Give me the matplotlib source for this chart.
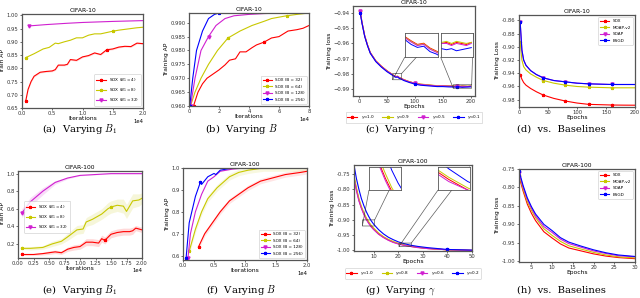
import matplotlib
matplotlib.use("Agg")
import matplotlib.pyplot as plt

# ---------------- data ----------------
# (a) CIFAR-10, varying B1  (iterations in units of 1e4)
a_x_red = [0.06, 0.1, 0.15, 0.2, 0.3, 0.4, 0.5, 0.55, 0.6, 0.7, 0.75, 0.8, 0.9, 1.0, 1.1, 1.2, 1.3, 1.4, 1.5, 1.6, 1.7, 1.8, 1.9, 2.0]
a_red = [0.675, 0.72, 0.75, 0.77, 0.785, 0.788, 0.79, 0.795, 0.812, 0.812, 0.815, 0.833, 0.83, 0.843, 0.848, 0.858, 0.852, 0.87, 0.873, 0.88, 0.883, 0.882, 0.895, 0.893]
a_x_yel = [0.06, 0.2, 0.35, 0.45, 0.55, 0.6, 0.7, 0.8, 0.9, 1.0, 1.1, 1.2, 1.3, 1.4, 1.5, 1.6, 1.7, 1.8, 1.9, 2.0]
a_yel = [0.84, 0.855, 0.873, 0.879, 0.895, 0.893, 0.9, 0.906, 0.915, 0.915, 0.925, 0.93, 0.93, 0.935, 0.94, 0.944, 0.947, 0.95, 0.953, 0.955]
a_x_mag = [0.12, 0.4, 0.75, 1.0, 1.5, 2.0]
a_mag = [0.96, 0.965, 0.97, 0.973, 0.977, 0.98]
a_labels = ["SOX ($B_1=4$)", "SOX ($B_1=8$)", "SOX ($B_1=32$)"]

# (b) CIFAR-10, varying B
b_x_red = [0.3, 0.6, 0.9, 1.2, 1.6, 2.0, 2.4, 2.7, 3.1, 3.4, 3.8, 4.2, 4.5, 5.0, 5.5, 6.0, 6.6, 7.2, 7.6, 8.0]
b_red = [0.960, 0.965, 0.968, 0.970, 0.9715, 0.973, 0.9748, 0.9765, 0.977, 0.9795, 0.9795, 0.981, 0.982, 0.983, 0.9845, 0.985, 0.987, 0.9875, 0.988, 0.989]
b_x_yel = [0.1, 0.4, 0.8, 1.3, 1.9, 2.6, 3.4, 4.2, 5.0, 5.5, 6.5, 7.2, 8.0]
b_yel = [0.960, 0.965, 0.970, 0.975, 0.980, 0.9845, 0.987, 0.989, 0.9905, 0.9915, 0.9925, 0.993, 0.9935]
b_x_mag = [0.1, 0.4, 0.8, 1.3, 1.8, 2.4, 3.0, 4.0, 5.0, 6.2]
b_mag = [0.960, 0.970, 0.980, 0.985, 0.989, 0.9915, 0.9925, 0.993, 0.9933, 0.9935]
b_x_blu = [0.05, 0.25, 0.5, 0.9, 1.3, 1.7, 2.0, 2.6, 3.2]
b_blu = [0.960, 0.970, 0.980, 0.987, 0.9915, 0.993, 0.9935, 0.9935, 0.9935]
b_labels = ["SOX (B = 32)", "SOX (B = 64)", "SOX (B = 128)", "SOX (B = 256)"]

# (c) CIFAR-10, varying gamma
c_ep = [2, 5, 10, 15, 20, 30, 40, 50, 60, 63, 66, 69, 72, 75, 80, 90, 100, 110, 120, 130, 140, 150, 160, 170, 175, 180, 185, 190, 195, 200]
c_red = [-0.939, -0.946, -0.955, -0.961, -0.966, -0.9715, -0.975, -0.978, -0.9805, -0.9812, -0.9818, -0.9816, -0.9824, -0.9829, -0.9838, -0.9852, -0.9862, -0.9869, -0.9872, -0.9876, -0.9879, -0.9878, -0.988, -0.9882, -0.9881, -0.9883, -0.9881, -0.9882, -0.9883, -0.9881]
c_yel = [-0.939, -0.946, -0.955, -0.961, -0.9662, -0.9716, -0.9752, -0.9781, -0.9806, -0.9813, -0.9819, -0.9817, -0.9825, -0.983, -0.9839, -0.9852, -0.9862, -0.9868, -0.9871, -0.9875, -0.9878, -0.9878, -0.9879, -0.9881, -0.988, -0.9882, -0.988, -0.9881, -0.9882, -0.9881]
c_mag = [-0.939, -0.946, -0.955, -0.9612, -0.9662, -0.9717, -0.9753, -0.9782, -0.9807, -0.9814, -0.982, -0.9818, -0.9826, -0.9831, -0.984, -0.9853, -0.9863, -0.987, -0.9873, -0.9877, -0.988, -0.9879, -0.9881, -0.9882, -0.9882, -0.9884, -0.9882, -0.9883, -0.9884, -0.9882]
c_blu = [-0.940, -0.9465, -0.9555, -0.9615, -0.9665, -0.972, -0.9756, -0.9786, -0.981, -0.9818, -0.9823, -0.9821, -0.983, -0.9834, -0.9844, -0.9857, -0.9868, -0.9875, -0.9878, -0.9881, -0.9884, -0.9884, -0.9886, -0.9887, -0.9888, -0.9887, -0.9889, -0.9888, -0.9887, -0.9886]
c_labels = [r"$\gamma$=1.0", r"$\gamma$=0.9", r"$\gamma$=0.5", r"$\gamma$=0.1"]

# (d) CIFAR-10, baselines
d_ep = [2, 5, 8, 12, 20, 30, 42, 60, 80, 100, 120, 140, 160, 180, 200]
d_sox = [-0.942, -0.949, -0.954, -0.958, -0.963, -0.968, -0.973, -0.978, -0.982, -0.985, -0.987, -0.9875, -0.988, -0.9882, -0.9883]
d_moap = [-0.893, -0.92, -0.93, -0.935, -0.941, -0.946, -0.951, -0.955, -0.958, -0.96, -0.961, -0.9615, -0.962, -0.962, -0.962]
d_soap = [-0.862, -0.905, -0.92, -0.928, -0.936, -0.942, -0.947, -0.951, -0.953, -0.955, -0.956, -0.9565, -0.957, -0.957, -0.957]
d_bsgd = [-0.863, -0.905, -0.92, -0.928, -0.936, -0.942, -0.947, -0.951, -0.953, -0.955, -0.956, -0.9565, -0.957, -0.957, -0.957]
d_labels = ["SOX", "MOAP-v2", "SOAP", "BSGD"]

# (e) CIFAR-100, varying B1
e_x_red = [0.06, 0.25, 0.4, 0.5, 0.6, 0.7, 0.8, 0.9, 1.0, 1.1, 1.2, 1.3, 1.35, 1.4, 1.5, 1.6, 1.7, 1.8, 1.85, 1.9, 2.0]
e_red = [0.08, 0.08, 0.09, 0.1, 0.11, 0.1, 0.14, 0.16, 0.17, 0.22, 0.22, 0.21, 0.26, 0.24, 0.31, 0.33, 0.34, 0.34, 0.35, 0.38, 0.36]
e_red_sd = [0.01, 0.01, 0.015, 0.02, 0.02, 0.02, 0.025, 0.03, 0.03, 0.04, 0.04, 0.04, 0.04, 0.04, 0.04, 0.04, 0.04, 0.04, 0.04, 0.03, 0.03]
e_x_yel = [0.06, 0.2, 0.4, 0.55, 0.7, 0.8, 0.95, 1.05, 1.1, 1.2, 1.3, 1.35, 1.45, 1.5, 1.6, 1.7, 1.75, 1.85, 1.95, 2.0]
e_yel = [0.15, 0.15, 0.16, 0.2, 0.23, 0.28, 0.36, 0.37, 0.45, 0.48, 0.52, 0.54, 0.6, 0.62, 0.64, 0.63, 0.57, 0.69, 0.7, 0.72]
e_yel_sd = [0.01, 0.02, 0.02, 0.03, 0.03, 0.04, 0.05, 0.05, 0.05, 0.06, 0.06, 0.06, 0.07, 0.07, 0.07, 0.08, 0.08, 0.08, 0.07, 0.06]
e_x_mag = [0.06, 0.2, 0.4, 0.6, 0.8, 1.0, 1.25, 1.5, 2.0]
e_mag = [0.55, 0.68, 0.8, 0.9, 0.95, 0.98, 0.99, 1.0, 1.0]
e_mag_sd = [0.05, 0.05, 0.04, 0.02, 0.01, 0.005, 0.003, 0.002, 0.002]

# (f) CIFAR-100, varying B
f_x_red = [0.25, 0.35, 0.5, 0.6, 0.75, 0.9, 1.05, 1.25, 1.45, 1.65, 1.9, 2.0]
f_red = [0.64, 0.7, 0.76, 0.8, 0.85, 0.88, 0.91, 0.94, 0.955, 0.97, 0.98, 0.985]
f_x_yel = [0.1, 0.2, 0.3, 0.4, 0.55, 0.75, 0.9, 1.05, 1.3, 2.0]
f_yel = [0.62, 0.72, 0.8, 0.86, 0.91, 0.96, 0.98, 0.99, 1.0, 1.0]
f_x_mag = [0.08, 0.12, 0.2, 0.3, 0.4, 0.5, 0.6, 0.8, 1.0, 2.0]
f_mag = [0.59, 0.7, 0.8, 0.88, 0.94, 0.96, 0.985, 0.995, 1.0, 1.0]
f_x_blu = [0.05, 0.1, 0.2, 0.28, 0.3, 0.4, 0.5, 0.53, 0.6, 0.7, 0.8, 2.0]
f_blu = [0.59, 0.75, 0.87, 0.935, 0.925, 0.96, 0.975, 0.97, 0.99, 0.995, 1.0, 1.0]

# (g) CIFAR-100, varying gamma
g_ep = [2, 3, 4, 5, 6, 7, 8, 9, 10, 12, 14, 16, 18, 20, 22, 25, 28, 32, 36, 40, 45, 50]
g_red = [-0.76, -0.80, -0.835, -0.86, -0.88, -0.897, -0.91, -0.921, -0.93, -0.946, -0.957, -0.966, -0.973, -0.978, -0.982, -0.987, -0.990, -0.994, -0.996, -0.998, -0.999, -1.0]
g_yel = [-0.755, -0.795, -0.83, -0.856, -0.876, -0.893, -0.906, -0.918, -0.927, -0.943, -0.955, -0.964, -0.971, -0.977, -0.981, -0.986, -0.990, -0.993, -0.996, -0.998, -0.999, -1.0]
g_mag = [-0.765, -0.805, -0.838, -0.862, -0.882, -0.899, -0.912, -0.923, -0.932, -0.947, -0.958, -0.967, -0.974, -0.979, -0.983, -0.987, -0.991, -0.994, -0.996, -0.998, -0.999, -1.0]
g_blu = [-0.72, -0.765, -0.80, -0.83, -0.853, -0.873, -0.889, -0.903, -0.914, -0.932, -0.946, -0.957, -0.965, -0.972, -0.977, -0.983, -0.987, -0.991, -0.994, -0.997, -0.998, -0.999]
g_labels = [r"$\gamma$=1.0", r"$\gamma$=0.8", r"$\gamma$=0.6", r"$\gamma$=0.2"]

# (h) CIFAR-100, baselines
h_ep = [2, 3, 4, 5, 6, 8, 10, 12, 14, 17, 20, 23, 26, 30]
h_sox = [-0.77, -0.81, -0.845, -0.87, -0.89, -0.92, -0.937, -0.953, -0.964, -0.972, -0.98, -0.986, -0.99, -0.993]
h_moap = [-0.765, -0.805, -0.838, -0.862, -0.882, -0.912, -0.93, -0.946, -0.958, -0.967, -0.976, -0.983, -0.988, -0.991]
h_soap = [-0.76, -0.8, -0.832, -0.856, -0.877, -0.906, -0.922, -0.94, -0.952, -0.962, -0.972, -0.979, -0.985, -0.988]
h_bsgd = [-0.755, -0.795, -0.828, -0.852, -0.872, -0.9, -0.917, -0.936, -0.948, -0.959, -0.969, -0.977, -0.983, -0.987]

# ---------------- style ----------------
plt.rcParams["font.family"] = ["DejaVu Sans"]
plt.rcParams["mathtext.fontset"] = "dejavusans"
TICK = 3.8
LAB = 4.3
LEG = 3.0
cols = ["red", "#c8c800", "#d020d0", "blue"]
mks = ["*", "*", "v", "*"]

W, H = 640.0, 298.0
fig = plt.figure(figsize=(6.4, 2.98), dpi=100)


def make_ax(x0, y0, x1, y1):
    ax = fig.add_axes([x0 / W, 1 - y1 / H, (x1 - x0) / W, (y1 - y0) / H])
    for s in ax.spines.values():
        s.set_color("#555555")
        s.set_linewidth(0.9)
    ax.tick_params(labelsize=TICK, length=1.2, width=0.5, pad=1.3, colors="#333333")
    return ax


def finish(ax, title, xl, yl):
    ax.set_title(title, fontsize=LAB, pad=1.5)
    ax.set_xlabel(xl, fontsize=LAB, labelpad=0)
    ax.set_ylabel(yl, fontsize=LAB, labelpad=1)


def sci_x(ax):
    ax.text(1.0, -0.12, "1e4", transform=ax.transAxes, ha="right", va="top", fontsize=TICK)


def leg(ax, hl=2.2, bp=0.5, **kw):
    l = ax.legend(fontsize=LEG, frameon=True, handlelength=hl, borderpad=bp, labelspacing=0.6, **kw)
    l.get_frame().set_linewidth(0.4)
    l.get_frame().set_edgecolor("#bbbbbb")
    return l


def line(ax, x, y, i, lab=None, me=None):
    ax.plot(x, y, color=cols[i], lw=0.8, marker=mks[i], ms=2.2, markevery=me, label=lab)


# (a)
ax = make_ax(22, 14, 143, 108)
line(ax, a_x_red, a_red, 0, a_labels[0], [0, 17])
ax.fill_between(a_x_red, [v - 0.003 for v in a_red], [v + 0.003 for v in a_red], color="red", alpha=0.15, lw=0)
line(ax, a_x_yel, a_yel, 1, a_labels[1], [0, 14])
line(ax, a_x_mag, a_mag, 2, a_labels[2], [0])
ax.set_xlim(0, 2.0)
ax.set_ylim(0.65, 1.005)
ax.set_xticks([0.0, 0.5, 1.0, 1.5, 2.0])
ax.set_yticks([0.65, 0.70, 0.75, 0.80, 0.85, 0.90, 0.95, 1.00])
ax.set_yticklabels(["%.2f" % v for v in [0.65, 0.70, 0.75, 0.80, 0.85, 0.90, 0.95, 1.00]])
sci_x(ax)
finish(ax, "CIFAR-10", "Iterations", "Train AP")
leg(ax, loc="lower right")

# (b)
ax = make_ax(189, 13, 309, 106)
line(ax, b_x_red, b_red, 0, b_labels[0], [0, 13])
line(ax, b_x_yel, b_yel, 1, b_labels[1], [0, 5, 10])
line(ax, b_x_mag, b_mag, 2, b_labels[2], [0, 3])
line(ax, b_x_blu, b_blu, 3, b_labels[3], [0, 6])
ax.set_xlim(0, 8)
ax.set_ylim(0.960, 0.9935)
ax.set_xticks([0, 2, 4, 6, 8])
ax.set_yticks([0.960, 0.965, 0.970, 0.975, 0.980, 0.985, 0.990])
ax.set_yticklabels(["%.3f" % v for v in [0.960, 0.965, 0.970, 0.975, 0.980, 0.985, 0.990]])
sci_x(ax)
finish(ax, "CIFAR-10", "Iterations", "Training AP")
leg(ax, loc="lower right")

# (c)
ax = make_ax(353, 6, 475, 96)
c_series = [c_red, c_yel, c_mag, c_blu]
for i, ys in enumerate(c_series):
    line(ax, c_ep, ys, i, c_labels[i], [0, 16, 24])
ax.set_xlim(-11, 208)
ax.set_ylim(-0.9946, -0.9354)
ax.set_xticks([0, 50, 100, 150, 200])
ax.set_yticks([-0.94, -0.95, -0.96, -0.97, -0.98, -0.99])
finish(ax, "CIFAR-10", "Epochs", "Training loss")
leg(ax, hl=2.5, bp=0.35, loc="upper center", bbox_to_anchor=(0.5, -0.15), ncol=4, columnspacing=1.8)
for (x0, x1, y0, y1, box) in [(60, 76, -0.9839, -0.9799, [0.425, 0.433, 0.275, 0.267]),
                              (169, 202, -0.9895, -0.9872, [0.718, 0.433, 0.268, 0.267])]:
    axins = ax.inset_axes(box)
    for i, ys in enumerate(c_series):
        axins.plot(c_ep, ys, color=cols[i], lw=0.7)
    axins.set_xlim(x0, x1)
    axins.set_ylim(y0, y1)
    axins.set_xticks([])
    axins.set_yticks([])
    for s in axins.spines.values():
        s.set_color("#555555")
        s.set_linewidth(0.6)
    ax.indicate_inset_zoom(axins, edgecolor="#333333", linewidth=0.5, alpha=0.8)

# (d)
ax = make_ax(519, 15, 635, 107)
d_series = [d_sox, d_moap, d_soap, d_bsgd]
for i, ys in enumerate(d_series):
    line(ax, d_ep, ys, i, d_labels[i], [0, 6, 8, 10, 12])
ax.set_xlim(0, 200)
ax.set_ylim(-0.991, -0.852)
ax.set_xticks([0, 50, 100, 150, 200])
ax.set_yticks([-0.86, -0.88, -0.90, -0.92, -0.94, -0.96, -0.98])
ax.set_yticklabels(["%.2f" % v for v in [-0.86, -0.88, -0.90, -0.92, -0.94, -0.96, -0.98]])
finish(ax, "CIFAR-10", "Epochs", "Training Loss")
leg(ax, loc="upper right")

# (e)
ax = make_ax(18, 171, 142, 258)
for i, (xs, ys, sd, me) in enumerate([(e_x_red, e_red, e_red_sd, [0, 13]),
                                      (e_x_yel, e_yel, e_yel_sd, [0, 13]),
                                      (e_x_mag, e_mag, e_mag_sd, [0])]):
    line(ax, xs, ys, i, a_labels[i], me)
    ax.fill_between(xs, [a - b for a, b in zip(ys, sd)], [a + b for a, b in zip(ys, sd)],
                    color=cols[i], alpha=0.15, lw=0)
ax.set_xlim(0, 2.0)
ax.set_ylim(0.04, 1.03)
ax.set_xticks([0.0, 0.25, 0.5, 0.75, 1.0, 1.25, 1.5, 1.75, 2.0])
ax.set_xticklabels(["%.2f" % v for v in [0.0, 0.25, 0.5, 0.75, 1.0, 1.25, 1.5, 1.75, 2.0]])
ax.set_yticks([0.2, 0.4, 0.6, 0.8, 1.0])
sci_x(ax)
finish(ax, "CIFAR-100", "Iterations", "Train AP")
leg(ax, loc="center left", bbox_to_anchor=(0.03, 0.47))

# (f)
ax = make_ax(183, 168, 307, 260)
line(ax, f_x_red, f_red, 0, b_labels[0], [0])
ax.fill_between(f_x_red, [v - 0.012 for v in f_red], [v + 0.012 for v in f_red], color="red", alpha=0.1, lw=0)
line(ax, f_x_yel, f_yel, 1, b_labels[1], [0])
ax.fill_between(f_x_yel, [v - 0.015 for v in f_yel], [min(v + 0.015, 1.0) for v in f_yel], color=cols[1], alpha=0.12, lw=0)
line(ax, f_x_mag, f_mag, 2, b_labels[2], [0])
line(ax, f_x_blu, f_blu, 3, b_labels[3], [0, 3])
ax.set_xlim(0, 2.0)
ax.set_ylim(0.58, 1.0)
ax.set_xticks([0.0, 0.5, 1.0, 1.5, 2.0])
ax.set_yticks([0.6, 0.7, 0.8, 0.9, 1.0])
sci_x(ax)
finish(ax, "CIFAR-100", "Iterations", "Training AP")
leg(ax, loc="lower right")

# (g)
ax = make_ax(354, 165, 472, 251)
g_series = [g_red, g_yel, g_mag, g_blu]
for i, ys in enumerate(g_series):
    line(ax, g_ep, ys, i, g_labels[i], [19])
ax.set_xlim(2, 50)
ax.set_ylim(-1.002, -0.72)
ax.set_xticks([10, 20, 30, 40, 50])
ax.set_yticks([-0.75, -0.80, -0.85, -0.90, -0.95, -1.00])
ax.set_yticklabels(["%.2f" % v for v in [-0.75, -0.80, -0.85, -0.90, -0.95, -1.00]])
finish(ax, "CIFAR-100", "Epochs", "Training loss")
leg(ax, hl=2.5, bp=0.35, loc="upper center", bbox_to_anchor=(0.5, -0.17), ncol=4, columnspacing=1.8)
for (x0, x1, y0, y1, box) in [(5.4, 10.4, -0.92, -0.90, [0.127, 0.709, 0.268, 0.271]),
                              (20.3, 25.3, -0.987, -0.976, [0.712, 0.709, 0.268, 0.271])]:
    axins = ax.inset_axes(box)
    for i, ys in enumerate(g_series):
        axins.plot(g_ep, ys, color=cols[i], lw=0.7)
    axins.set_xlim(x0, x1)
    axins.set_ylim(y0, y1)
    axins.set_xticks([])
    axins.set_yticks([])
    for s in axins.spines.values():
        s.set_color("#555555")
        s.set_linewidth(0.6)
    ax.indicate_inset_zoom(axins, edgecolor="#333333", linewidth=0.5, alpha=0.8)

# (h)
ax = make_ax(519, 169, 635, 262)
h_series = [h_sox, h_moap, h_soap, h_bsgd]
for i, ys in enumerate(h_series):
    line(ax, h_ep, ys, i, d_labels[i], [0])
ax.set_xlim(2, 30)
ax.set_ylim(-1.002, -0.75)
ax.set_xticks([5, 10, 15, 20, 25, 30])
ax.set_yticks([-0.75, -0.80, -0.85, -0.90, -0.95, -1.00])
ax.set_yticklabels(["%.2f" % v for v in [-0.75, -0.80, -0.85, -0.90, -0.95, -1.00]])
finish(ax, "CIFAR-100", "Epochs", "Training loss")
leg(ax, loc="upper right")

# captions
caps = [(80, 129, r"(a)  Varying $B_1$"), (241, 129, r"(b)  Varying $B$"),
        (400, 129, r"(c)  Varying $\gamma$"), (561, 129, "(d)  vs.  Baselines"),
        (80, 290, r"(e)  Varying $B_1$"), (241, 290, r"(f)  Varying $B$"),
        (400, 290, r"(g)  Varying $\gamma$"), (561, 290, "(h)  vs.  Baselines")]
for cx, cy, t in caps:
    fig.text(cx / W, 1 - cy / H, t, ha="center", va="center", fontsize=7.2,
             family="DejaVu Serif", math_fontfamily="cm")

fig.savefig("out.png", dpi=100)
